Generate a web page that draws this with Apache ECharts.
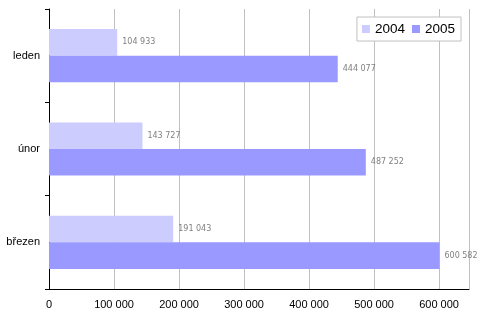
<!DOCTYPE html>
<html>
<head>
<meta charset="utf-8">
<script src="https://cdn.jsdelivr.net/npm/echarts@6/dist/echarts.min.js"></script>
<style>html,body{margin:0;padding:0;background:#fff}#c{width:500px;height:324px}</style>
</head>
<body>
<div id="c"></div>
<script>
var categories = ['leden', 'únor', 'březen'];
var seriesNames = ['2004', '2005'];
var values2004 = [104933, 143727, 191043];
var values2005 = [444077, 487252, 600582];

function fmt(v) {
  return String(Math.round(v)).replace(/\B(?=(\d{3})+(?!\d))/g, ' ');
}

var chart = echarts.init(document.getElementById('c'), null, {renderer: 'canvas'});
var labelStyle = {
  show: true, position: 'right', distance: 5,
  fontFamily: 'DejaVu Sans', fontSize: 8, color: '#808080',
  formatter: function (p) { return fmt(p.value); }
};
chart.setOption({
  animation: false,
  backgroundColor: '#fff',
  grid: {left: 49, top: 9, right: 31, bottom: 35, containLabel: false},
  legend: {
    data: seriesNames,
    right: 39, top: 17,
    orient: 'horizontal',
    backgroundColor: '#fff',
    borderColor: '#c0c0c0', borderWidth: 1,
    padding: [5, 6, 5, 5],
    itemWidth: 8, itemHeight: 8, itemGap: 7,
    icon: 'rect',
    textStyle: {fontFamily: 'Liberation Sans', fontSize: 13.5, color: '#000'}
  },
  xAxis: {
    type: 'value', min: 0, max: 646000, interval: 100000,
    axisLine: {show: true, lineStyle: {color: '#000', width: 1}},
    axisTick: {show: false},
    splitLine: {show: true, lineStyle: {color: '#c0c0c0', width: 1}},
    axisLabel: {
      showMaxLabel: false, margin: 10,
      fontFamily: 'Liberation Sans', fontSize: 11, color: '#000',
      formatter: function (v) { return fmt(v); }
    }
  },
  yAxis: {
    type: 'category', data: categories, inverse: true,
    axisLine: {show: true, lineStyle: {color: '#000', width: 1}},
    axisTick: {show: true, length: 4, lineStyle: {color: '#000'}},
    splitLine: {show: false},
    axisLabel: {margin: 9, fontFamily: 'Liberation Sans', fontSize: 11, color: '#000'}
  },
  series: [
    {name: seriesNames[0], type: 'bar', data: values2004, barGap: '0%', barCategoryGap: '43%',
     itemStyle: {color: '#ccccff'}, label: labelStyle},
    {name: seriesNames[1], type: 'bar', data: values2005, barGap: '0%', barCategoryGap: '43%',
     itemStyle: {color: '#9999ff'}, label: labelStyle}
  ]
});
</script>
</body>
</html>
